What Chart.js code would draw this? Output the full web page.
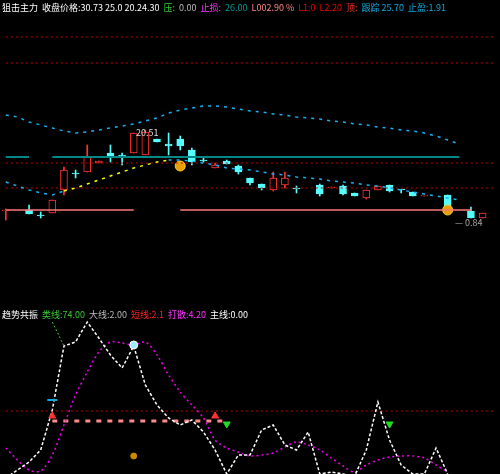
<!DOCTYPE html>
<html>
<head>
<meta charset="utf-8">
<script src="https://cdn.jsdelivr.net/npm/chart.js@4.4.0/dist/chart.umd.min.js"></script>
<style>
  body { margin: 0; background: #000; width: 500px; height: 474px; overflow: hidden; position: relative; font-family: "Noto Sans CJK SC", sans-serif; }
  #top { position: absolute; left: 0; top: 0; }
  #bot { position: absolute; left: 0; top: 305px; }
  .hdr { position: absolute; left: 2px; font-size: 9px; white-space: nowrap; }
  .hdr span { margin-right: 4px; }
  .note { position: absolute; font-size: 9px; color: #ddd; }
</style>
</head>
<body>
<canvas id="top" width="500" height="300"></canvas>
<canvas id="bot" width="500" height="169"></canvas>
<div class="hdr" style="top:1px">
  <span style="color:#fff">狙击主力</span><span style="color:#fff">收盘价格:30.73 25.0 20.24.30</span><span style="color:#3c3">压:</span><span style="color:#bbb">0.00</span><span style="color:#f3f">止损:</span><span style="color:#099">26.00</span><span style="color:#f88">L002.90 %</span><span style="color:#e00">L1:0</span><span style="color:#e00">L2.20</span><span style="color:#f33">顶:</span><span style="color:#1ad">跟踪 25.70</span><span style="color:#1ad">止盈:1.91</span>
</div>
<div class="hdr" style="top:308px">
  <span style="color:#fff">趋势共振</span><span style="color:#3c3">类线:74.00</span><span style="color:#bbb">大线:2.00</span><span style="color:#f22">短线:2.1</span><span style="color:#f3f">打散:4.20</span><span style="color:#fff">主线:0.00</span>
</div>
<div class="note" style="left:136px;top:126px">20.51</div>
<div class="note" style="left:455px;top:216px;color:#aaa">— 0.84</div>
<script>
// 43 trading slots
const slots = Array.from({length: 43}, (_, i) => i);

// candles: slot, open, close, high, low
const candleSlot = [0,2,3,4,5,6,7,8,9,10,11,12,13,14,15,16,17,18,19,20,21,22,23,24,25,27,28,29,30,31,32,33,34,35,36,38,40,41];
const openP  = [8.9,9.0,8.5,8.7,11.0,12.7,12.8,13.7,14.7,14.5,14.7,14.5,16.1,15.6,16.1,15.0,14.0,13.2,13.9,13.4,12.2,11.6,11.0,11.5,11.2,11.5,11.2,11.4,10.7,10.2,11.0,11.5,11.0,10.8,10.4,10.5,8.9,8.2];
const closeP = [9.0,8.6,8.4,10.0,13.0,12.6,14.3,13.9,14.3,14.4,16.7,16.8,15.8,15.4,15.4,13.8,13.9,13.5,13.6,12.8,11.7,11.2,12.2,12.2,11.1,10.6,11.3,10.6,10.4,11.0,11.4,10.9,11.0,10.4,10.5,9.3,8.2,8.7];
const highP  = [9.1,9.5,8.8,10.0,13.3,13.0,15.5,13.9,15.5,14.7,16.7,17.0,16.1,16.7,16.4,15.2,14.2,13.7,14.0,13.5,12.2,11.6,12.8,12.8,11.4,11.6,11.3,11.5,10.7,11.0,11.4,11.5,11.0,10.8,10.5,10.5,9.3,8.7];
const lowP   = [8.0,8.6,8.2,8.7,10.5,12.2,12.8,13.7,13.8,13.5,14.7,14.5,15.8,14.5,15.0,13.5,13.8,13.2,13.6,12.6,11.5,11.0,10.9,11.2,10.7,10.4,11.2,10.5,10.4,10.1,11.0,10.8,10.7,10.4,10.4,9.3,8.2,8.2];

// bands
const upperBand = [18.5,18.3,17.8,17.5,17.2,16.9,16.7,16.8,17.0,17.2,17.4,17.6,17.9,18.2,18.7,19.0,19.2,19.4,19.4,19.3,19.1,18.9,18.8,18.6,18.5,18.3,18.2,18.1,17.9,17.8,17.6,17.5,17.3,17.2,17.0,16.9,16.7,16.4,16.0,15.6];
const lowerBand = [11.8,11.4,11.0,10.7,10.5,10.9,11.2,11.6,12.0,12.4,12.8,13.2,13.5,13.8,14.0,14.0,13.9,13.7,13.5,13.2,13.1,13.0,12.8,12.6,12.5,12.3,12.2,12.1,11.9,11.8,11.7,11.5,11.4,11.2,11.0,10.8,10.6,10.4,10.2,10.0];
const pressureLevel = 14.3;
const gridLevels = [26.3, 23.7, 13.7, 11.2];
const stopLevel = 9.0;

// indicator panel
const whiteLine = [-4,4,12,24,64,128,132,152,136,119,106,128,89,69,56,49,54,42,24,0,19,19,44,49,29,24,42,0,2,0,-2,24,72,34,9,0,0,26,0];
const purpleLine = [26,14,4,3,19,49,79,102,122,132,131,129,132,119,99,82,69,56,34,26,22,18,19,21,27,32,29,24,16,8,2,9,14,17,18,18,16,9,2];
const greenLine = [null,null,null,null,152,128];
const indLevel = 63;
const indDash = 53;

function fill(fn) { return slots.map(fn); }

const bodies = fill(() => null), wicks = fill(() => null), cols = fill(() => '#000'), borders = fill(() => '#000');
candleSlot.forEach((s, k) => {
  const up = closeP[k] > openP[k];
  let o = openP[k], c = closeP[k];
  if (Math.abs(o - c) < 0.08) c = o + 0.08;
  bodies[s] = [o, c];
  wicks[s] = [lowP[k], highP[k]];
  cols[s] = up ? '#000' : '#5ff';
  borders[s] = up ? '#f33' : '#5ff';
});
const wickCols = fill(s => borders[s]);

const dotted = { borderDash: [2, 3], borderWidth: 1, pointRadius: 0, fill: false };

const topSets = [
  { type: 'line', data: upperBand, borderColor: '#1ab0f0', borderDash: [3, 5], borderWidth: 1.5, pointRadius: 0 },
  { type: 'line', data: lowerBand, borderWidth: 1.5, pointRadius: 0, borderDash: [3, 5],
    segment: { borderColor: ctx => (ctx.p0DataIndex >= 5 && ctx.p0DataIndex < 14) ? '#ff0' : '#1ab0f0' } },
  { type: 'line', data: fill(i => (i === 3 || i > 39) ? null : pressureLevel), borderColor: '#088', borderWidth: 2, pointRadius: 0 },
  { type: 'line', data: fill(i => (i > 11 && i < 15) || i > 40 ? null : stopLevel), borderColor: '#f77', borderWidth: 1.5, pointRadius: 0 },
  ...gridLevels.map(v => Object.assign({ type: 'line', data: fill(() => v), borderColor: '#c00' }, dotted)),
  { type: 'line', data: fill(i => (i === 15 || i === 38) ? (i === 15 ? 13.4 : 9.0) : null), showLine: false,
    pointRadius: 5, pointBackgroundColor: '#e8a000', pointBorderColor: '#ffcc33' },
  { type: 'bar', data: bodies, backgroundColor: cols, borderColor: borders, borderWidth: 1, barThickness: 7, grouped: false, borderSkipped: false },
  { type: 'bar', data: wicks, backgroundColor: wickCols, barThickness: 1, grouped: false }
];

const baseOpts = (ymin, ymax) => ({
  responsive: false, animation: false,
  layout: { padding: 0, autoPadding: false },
  plugins: { legend: { display: false }, tooltip: { enabled: false } },
  scales: {
    x: { display: false, offset: true },
    y: { display: false, min: ymin, max: ymax }
  }
});

new Chart(document.getElementById('top'), {
  data: { labels: slots, datasets: topSets },
  options: baseOpts(0, 30)
});

const botSets = [
  { type: 'line', data: fill(i => i === 4 ? 58 : (i === 18 ? 58 : null)), showLine: false, pointStyle: 'triangle', pointRadius: 4, pointBackgroundColor: '#f33', pointBorderColor: '#f33' },
  { type: 'line', data: fill(i => i === 19 || i === 33 ? 50 : null), showLine: false, pointStyle: 'triangle', rotation: 180, pointRadius: 4, pointBackgroundColor: '#2d2', pointBorderColor: '#2d2' },
  { type: 'line', data: fill(i => i === 4 ? 74 : null), showLine: false, pointStyle: 'line', pointRadius: 5, borderWidth: 2, pointBorderColor: '#1ad' },
  { type: 'line', data: fill(i => i === 11 ? 18 : null), showLine: false, pointRadius: 3, pointBackgroundColor: '#c80', pointBorderColor: '#c80' },
  { type: 'line', data: fill(i => i === 11 ? 129 : null), showLine: false, pointRadius: 4, pointBackgroundColor: '#9ef', pointBorderColor: '#fff' },
  { type: 'line', data: greenLine, borderColor: '#3c3', borderWidth: 1, borderDash: [2, 2], pointRadius: 0 },
  { type: 'line', data: whiteLine, borderColor: '#fff', borderWidth: 1.5, borderDash: [3, 2], pointRadius: 0 },
  { type: 'line', data: purpleLine, borderColor: '#e0e', borderWidth: 1.5, borderDash: [2, 3], pointRadius: 0, tension: 0.3 },
  { type: 'line', data: fill(i => (i >= 4 && i <= 19) ? indDash : null), borderColor: '#f88', borderWidth: 3, borderDash: [5, 6], pointRadius: 0 },
  Object.assign({ type: 'line', data: fill(() => indLevel), borderColor: '#c00' }, dotted)
];

new Chart(document.getElementById('bot'), {
  data: { labels: slots, datasets: botSets },
  options: baseOpts(0, 169)
});
</script>
</body>
</html>
